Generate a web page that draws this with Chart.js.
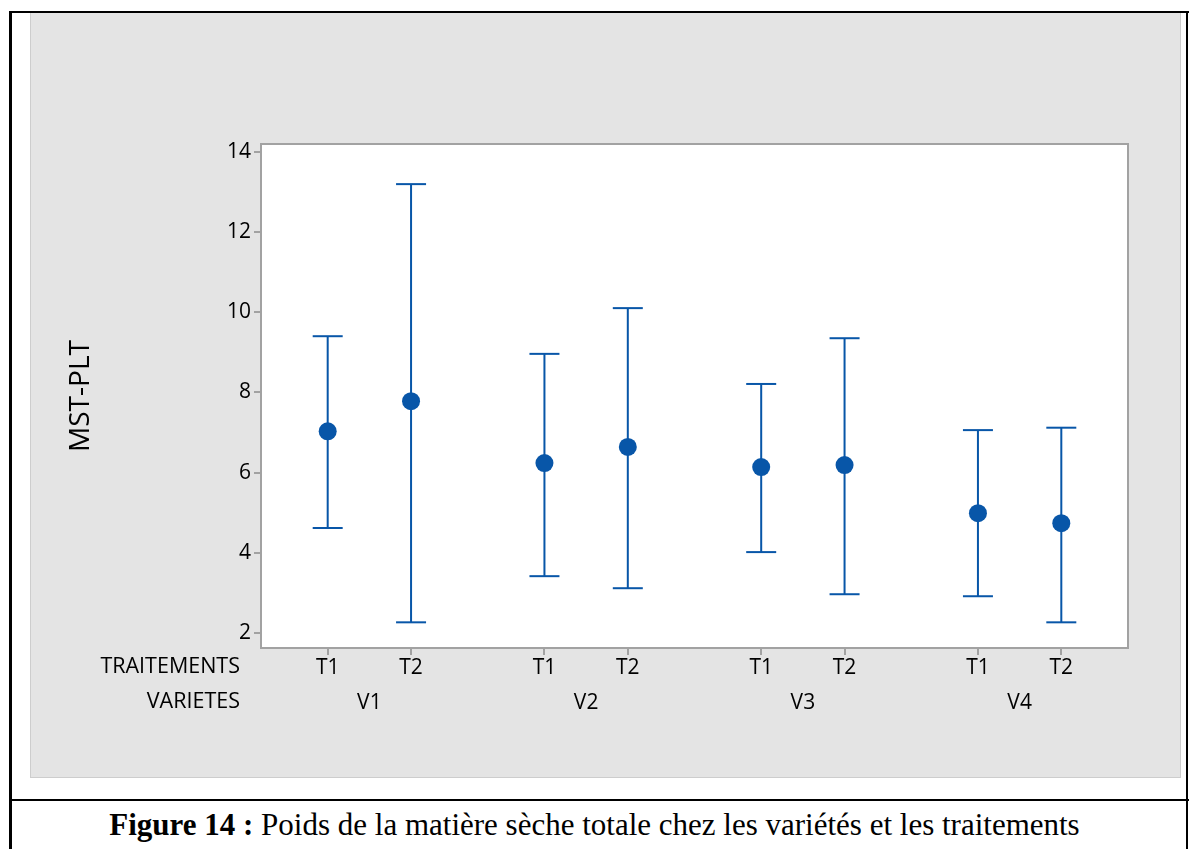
<!DOCTYPE html>
<html>
<head>
<meta charset="utf-8">
<script src="https://cdn.jsdelivr.net/npm/chart.js@4.4.1/dist/chart.umd.min.js"></script>
<style>
  html, body { margin:0; padding:0; background:#fff; }
  body { width:1189px; height:849px; position:relative; overflow:hidden; }
  .line { position:absolute; background:#000; }
  #panel { position:absolute; left:30px; top:13px; width:1149px; height:764px; background:#e4e4e4; border:1px solid #cdcdcd; border-top:none; }
  #wrap { position:absolute; left:31px; top:13px; width:1150px; height:766px; }
  #caption { position:absolute; left:0; width:1189px; top:806px; text-align:center; font-family:'Liberation Serif','Times New Roman',serif; font-size:31px; color:#000; line-height:38px; }
</style>
</head>
<body>
<div class="line" style="left:9px; top:11px; width:1180px; height:2px;"></div>
<div class="line" style="left:9px; top:11px; width:3px; height:838px;"></div>
<div class="line" style="left:1186px; top:11px; width:2px; height:838px;"></div>
<div class="line" style="left:9px; top:799px; width:1180px; height:2px;"></div>
<div id="panel"></div>
<div id="wrap"><canvas id="c" width="1150" height="766"></canvas></div>
<div id="caption"><b>Figure 14 :</b> Poids de la matière sèche totale chez les variétés et les traitements</div>
<script>
// ---- data ----
const varietes = ['V1', 'V2', 'V3', 'V4'];
const traitements = ['T1', 'T2'];
const means = [7.03, 7.78, 6.24, 6.64, 6.14, 6.19, 4.99, 4.74];
const upper = [9.40, 13.19, 8.96, 10.10, 8.21, 9.35, 7.06, 7.12];
const lower = [4.62, 2.27, 3.42, 3.12, 4.02, 2.97, 2.92, 2.27];
const yTicks = [2, 4, 6, 8, 10, 12, 14];
const yTitle = 'MST-PLT';
const rowTitles = ['TRAITEMENTS', 'VARIETES'];

// ---- layout helpers (scale units) ----
const GROUP_STEP = 2.6;
const xs = [];
const xLabels = [];
varietes.forEach((v, g) => traitements.forEach((t, k) => { xs.push(g * GROUP_STEP + k); xLabels.push(t); }));
const groupCenters = varietes.map((v, g) => g * GROUP_STEP + 0.5);

const COLOR = '#0856a8';
const FONT = "'Open Sans', 'Noto Sans', sans-serif";
const FW = 500;

const meanPts = means.map((m, i) => ({ x: xs[i], y: m }));
const whiskerPts = [];
means.forEach((m, i) => {
  whiskerPts.push({ x: xs[i], y: lower[i] });
  whiskerPts.push({ x: xs[i], y: upper[i] });
  whiskerPts.push({ x: xs[i], y: null });
});

const frame = {
  id: 'frame',
  beforeDraw(chart) {
    const a = chart.chartArea, ctx = chart.ctx;
    ctx.save();
    ctx.fillStyle = '#ffffff';
    ctx.fillRect(a.left, a.top, a.right - a.left, a.bottom - a.top);
    ctx.restore();
  },
  afterDraw(chart) {
    const a = chart.chartArea, ctx = chart.ctx;
    ctx.save();
    ctx.strokeStyle = '#a2a2a2';
    ctx.lineWidth = 2;
    ctx.strokeRect(a.left, a.top, a.right - a.left, a.bottom - a.top);
    ctx.fillStyle = '#000';
    ctx.font = FW + ' 21.5px ' + FONT;
    ctx.textAlign = 'right';
    ctx.textBaseline = 'middle';
    ctx.fillText(rowTitles[0], a.left - 21, a.bottom + 19);
    ctx.fillText(rowTitles[1], a.left - 21, a.bottom + 54);
    ctx.restore();
  }
};

new Chart(document.getElementById('c'), {
  type: 'scatter',
  data: {
    datasets: [
      { data: meanPts, pointRadius: 9, pointHoverRadius: 9, pointBackgroundColor: COLOR, pointBorderColor: COLOR, pointBorderWidth: 0, showLine: false },
      { data: whiskerPts, showLine: true, spanGaps: false, borderColor: COLOR, borderWidth: 2,
        pointStyle: 'line', pointRadius: 15, pointHoverRadius: 15, pointBorderColor: COLOR, pointBorderWidth: 2 }
    ]
  },
  options: {
    responsive: false,
    animation: false,
    events: [],
    layout: { padding: { left: 0, right: 53, top: 131, bottom: 55 } },
    plugins: { legend: { display: false }, tooltip: { enabled: false } },
    scales: {
      x: {
        type: 'linear', position: 'bottom', min: -0.8, max: 9.6, weight: 0,
        afterFit(s) { s.height = 36; },
        afterBuildTicks(s) { s.ticks = xs.map(v => ({ value: v })); },
        border: { display: false },
        grid: { drawOnChartArea: false, color: '#a2a2a2', lineWidth: 2, tickLength: 7 },
        ticks: { color: '#000', font: { family: FONT, size: 21, weight: FW }, padding: 0, maxRotation: 0, autoSkip: false,
          callback: (v, i) => xLabels[i] }
      },
      x2: {
        type: 'linear', position: 'bottom', min: -0.8, max: 9.6, weight: 1,
        afterFit(s) { s.height = 40; },
        afterBuildTicks(s) { s.ticks = groupCenters.map(v => ({ value: v })); },
        border: { display: false },
        grid: { display: false, drawTicks: false },
        ticks: { color: '#000', font: { family: FONT, size: 21, weight: FW }, padding: 6, maxRotation: 0, autoSkip: false,
          callback: (v, i) => varietes[i] }
      },
      y: {
        type: 'linear', min: 1.63, max: 14.19,
        afterFit(s) { s.width = 230; },
        afterBuildTicks(s) { s.ticks = yTicks.map(v => ({ value: v })); },
        border: { display: false },
        grid: { drawOnChartArea: false, color: '#a2a2a2', lineWidth: 2, tickLength: 7 },
        ticks: { color: '#000', font: { family: FONT, size: 21, weight: FW }, padding: 3 },
        title: { display: true, text: yTitle, color: '#000', font: { family: FONT, size: 28, weight: FW }, padding: { top: 33, bottom: 0 } }
      }
    }
  },
  plugins: [frame]
});
</script>
</body>
</html>
